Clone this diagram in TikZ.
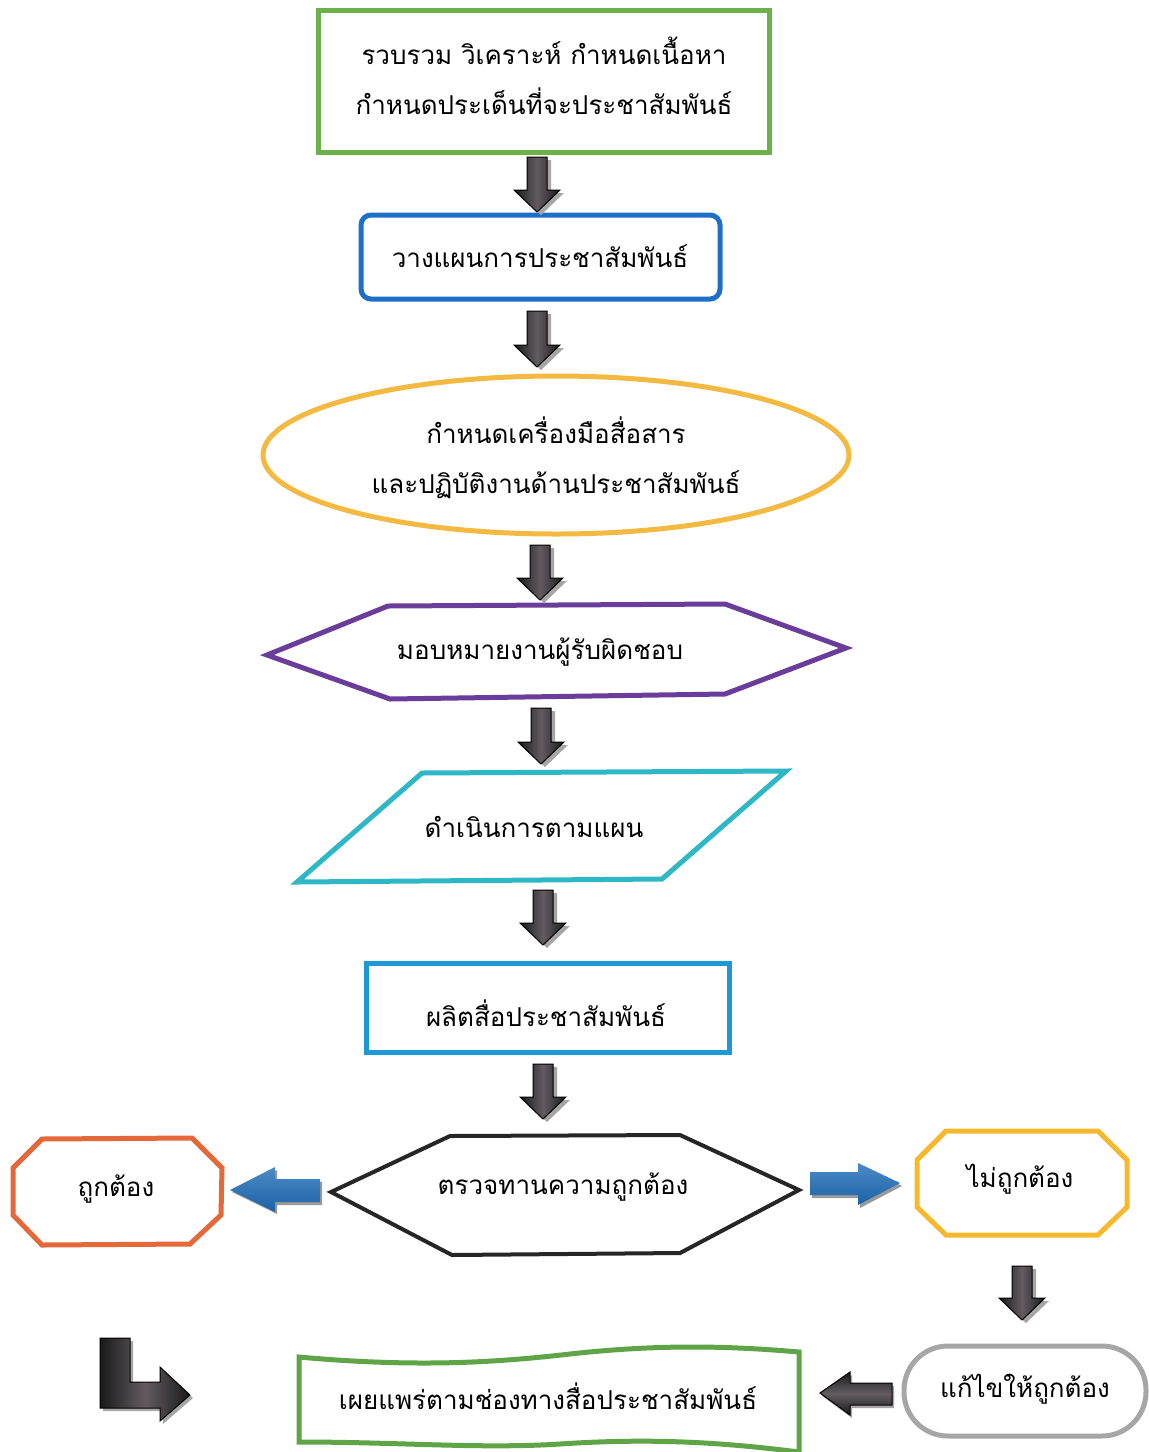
\documentclass[tikz,border=0pt]{standalone}
\usepackage{fontspec}
\newfontfamily\thai[Script=Thai]{Loma}
\usetikzlibrary{shapes.geometric}
\definecolor{gA}{HTML}{6DB14B}
\definecolor{bA}{HTML}{1E6FC8}
\definecolor{yA}{HTML}{F4B940}
\definecolor{pA}{HTML}{6A3D9A}
\definecolor{cA}{HTML}{2EB7C4}
\definecolor{bB}{HTML}{1D9AD6}
\definecolor{oA}{HTML}{E5683A}
\definecolor{yB}{HTML}{F6B92D}
\definecolor{grA}{HTML}{A6A6A6}
\definecolor{gB}{HTML}{5FA447}
\definecolor{arB}{HTML}{1F6DB8}
\definecolor{arD}{HTML}{3B3339}
\tikzset{
  box/.style={line width=5pt},
  lbl/.style={font=\thai\fontsize{26}{50}\selectfont, align=center, inner sep=0pt},
  darkarr/.style={left color=black!90, right color=black!90, middle color=arD!80, draw=black, line width=1pt},
  bluearr/.style={top color=arB!80, bottom color=arB!90!black, draw=none},
  shad/.style={fill=black!35},
}
\newcommand\darrow[3]{%
  \fill[shad] (#1-10+4,#2+3) -- (#1+10+4,#2+3) -- (#1+10+4,#3-22+3) -- (#1+23+4,#3-22+3) -- (#1+4,#3+3) -- (#1-23+4,#3-22+3) -- (#1-10+4,#3-22+3) -- cycle;
  \path[darkarr] (#1-10,#2) -- (#1+10,#2) -- (#1+10,#3-22) -- (#1+23,#3-22) -- (#1,#3) -- (#1-23,#3-22) -- (#1-10,#3-22) -- cycle;}
\begin{document}
\begin{tikzpicture}[x=1pt,y=-1pt]
\useasboundingbox[fill=white] (0,0) rectangle (1149,1452);
% 1
\draw[box,draw=gA] (318,10) rectangle (769,152);
\node[lbl] (n1) at (544,76) {รวบรวม วิเคราะห์ กำหนดเนื้อหา\\กำหนดประเด็นที่จะประชาสัมพันธ์};
% 2
\draw[box,draw=bA,rounded corners=10pt] (361,215) rectangle (720,299);
\node[lbl] (n2) at (540,256) {วางแผนการประชาสัมพันธ์};
% 3
\draw[box,draw=yA] (556,455) ellipse [x radius=293, y radius=79];
\node[lbl] (n3) at (556,458) {กำหนดเครื่องมือสื่อสาร\\และปฏิบัติงานด้านประชาสัมพันธ์};
% 4
\draw[box,draw=pA,line join=miter] (267,655) -- (388,606) -- (725,604) -- (846,648) -- (725,694) -- (390,699) -- cycle;
\node[lbl] (n4) at (540,652) {มอบหมายงานผู้รับผิดชอบ};
% 5
\draw[box,draw=cA] (422,773) -- (786,771) -- (662,879) -- (297,882) -- cycle;
\node[lbl] (n5) at (534,827) {ดำเนินการตามแผน};
% 6
\draw[box,draw=bB] (366,963) rectangle (729,1052);
\node[lbl] (n6) at (546,1013) {ผลิตสื่อประชาสัมพันธ์};
% 7
\draw[line width=4pt,draw=black!85] (331,1192) -- (450,1136) -- (680,1135) -- (799,1190) -- (680,1253) -- (452,1255) -- cycle;
\node[lbl] (n7) at (563,1187) {ตรวจทานความถูกต้อง};
% 8
\draw[box,draw=oA] (42,1139) -- (192,1138) -- (222,1168) -- (221,1215) -- (190,1244) -- (42,1245) -- (13,1215) -- (13,1168) -- cycle;
\node[lbl] (n8) at (116,1189) {ถูกต้อง};
% 9
\draw[box,draw=yB] (946,1131) -- (1098,1131) -- (1127,1160) -- (1127,1207) -- (1098,1235) -- (946,1235) -- (917,1207) -- (917,1160) -- cycle;
\node[lbl] (n9) at (1020,1179) {ไม่ถูกต้อง};
% 10
\draw[box,draw=grA,rounded corners=44pt] (904,1346) rectangle (1146,1436);
\node[lbl] (n10) at (1025,1389) {แก้ไขให้ถูกต้อง};
% 11 banner
\draw[box,draw=gB,fill=white] (299,1357) .. controls (420,1368) and (500,1362) .. (570,1354) .. controls (660,1344) and (730,1346) .. (799,1352)
  -- (799,1452) .. controls (720,1442) and (650,1438) .. (560,1444) .. controls (480,1449) and (400,1442) .. (299,1442) -- cycle;
\node[lbl] (n11) at (548,1396) {เผยแพร่ตามช่องทางสื่อประชาสัมพันธ์};
% down arrows
\darrow{537}{157}{212}
\darrow{537}{311}{367}
\darrow{540}{545}{600}
\darrow{541}{708}{764}
\darrow{543}{890}{945}
\darrow{543}{1064}{1119}
\darrow{1022}{1266}{1320}
% blue left arrow
\fill[black!40] (232,1192) -- (277,1170) -- (277,1182) -- (322,1182) -- (322,1205) -- (277,1205) -- (277,1214) -- cycle;
\path[bluearr] (230,1190) -- (275,1167) -- (275,1179) -- (320,1179) -- (320,1202) -- (275,1202) -- (275,1212) -- cycle;
% blue right arrow
\fill[black!40] (902,1186) -- (860,1208) -- (860,1198) -- (812,1198) -- (812,1175) -- (860,1175) -- (860,1166) -- cycle;
\path[bluearr] (900,1183) -- (858,1205) -- (858,1195) -- (810,1195) -- (810,1172) -- (858,1172) -- (858,1163) -- cycle;
% dark left arrow
\fill[shad] (822,1396) -- (852,1375) -- (852,1386) -- (894,1386) -- (894,1408) -- (852,1408) -- (852,1418) -- cycle;
\path[darkarr,top color=black!90,bottom color=black!90,middle color=arD!80] (820,1393) -- (850,1372) -- (850,1383) -- (892,1383) -- (892,1405) -- (850,1405) -- (850,1415) -- cycle;
% L arrow
\fill[shad] (103,1341) -- (133,1341) -- (133,1385) -- (163,1385) -- (163,1370) -- (193,1398) -- (163,1424) -- (163,1411) -- (103,1411) -- cycle;
\path[darkarr] (100,1338) -- (130,1338) -- (130,1382) -- (160,1382) -- (160,1367) -- (190,1395) -- (160,1421) -- (160,1408) -- (100,1408) -- cycle;
\end{tikzpicture}
\end{document}
